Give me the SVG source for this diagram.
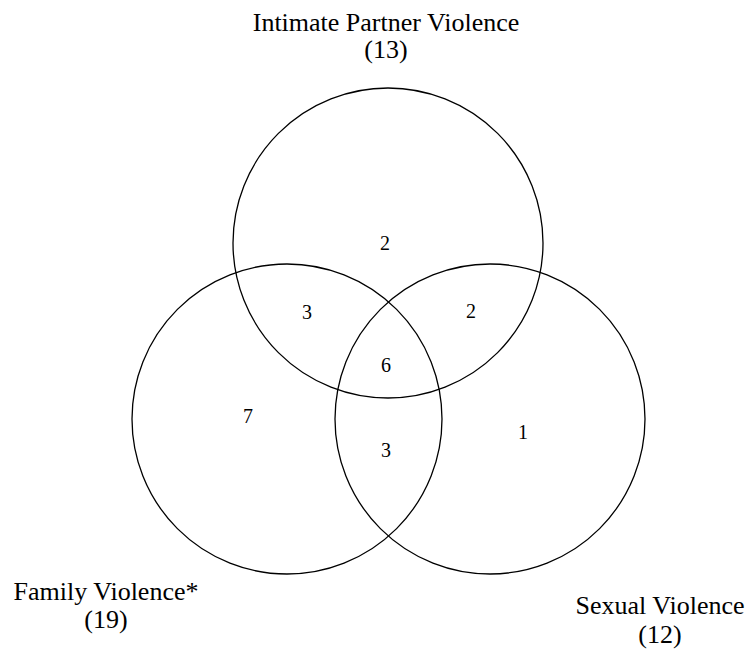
<svg xmlns="http://www.w3.org/2000/svg" width="748" height="654" viewBox="0 0 748 654">
<style>
.c{fill:none;stroke:#000;stroke-width:1.3}
.lbl{font-family:"Liberation Serif","Times New Roman",serif;font-size:26px;fill:#000;text-anchor:middle}
.num{font-family:"Liberation Serif","Times New Roman",serif;font-size:20px;fill:#000;text-anchor:middle}
</style>
<rect width="748" height="654" fill="#fff"/>
<g id="ipv">
<circle class="c" cx="388" cy="243" r="155"/>
<text class="lbl" x="386" y="31">Intimate Partner Violence</text>
<text class="lbl" x="386" y="58">(13)</text>
</g>
<g id="fv">
<circle class="c" cx="287" cy="419" r="155"/>
<text class="lbl" x="106" y="600">Family Violence*</text>
<text class="lbl" x="106" y="628">(19)</text>
</g>
<g id="sv">
<circle class="c" cx="490" cy="419" r="155"/>
<text class="lbl" x="660" y="614">Sexual Violence</text>
<text class="lbl" x="660" y="643">(12)</text>
</g>
<g id="counts">
<text class="num" x="385" y="250">2</text>
<text class="num" x="307" y="319">3</text>
<text class="num" x="471" y="318">2</text>
<text class="num" x="386" y="372">6</text>
<text class="num" x="386" y="457">3</text>
<text class="num" x="248" y="423">7</text>
<text class="num" x="523" y="439">1</text>
</g>
</svg>
